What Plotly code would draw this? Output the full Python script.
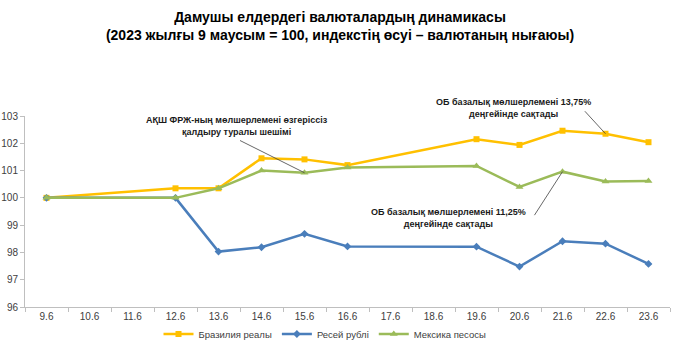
import plotly.graph_objects as go

categories = ["9.6", "10.6", "11.6", "12.6", "13.6", "14.6", "15.6", "16.6",
              "17.6", "18.6", "19.6", "20.6", "21.6", "22.6", "23.6"]
brazil = [100.0, None, None, 100.35, 100.35, 101.45, 101.41, 101.2,
          None, None, 102.15, 101.94, 102.46, 102.35, 102.04]
russia = [100.0, None, None, 100.0, 98.03, 98.19, 98.68, 98.22,
          None, None, 98.21, 97.48, 98.41, 98.32, 97.58]
mexico = [100.0, None, None, 100.0, 100.35, 101.0, 100.92, 101.11,
          None, None, 101.17, 100.4, 100.96, 100.6, 100.62]
y_ticks = [96, 97, 98, 99, 100, 101, 102, 103]

FONT = "Liberation Sans, Arial, sans-serif"

fig = go.Figure()
fig.add_trace(go.Scatter(x=categories, y=brazil, name="Бразилия реалы", mode="lines+markers",
                         connectgaps=True, line=dict(color="#FFC000", width=2.5),
                         marker=dict(symbol="square", size=6, color="#FFC000")))
fig.add_trace(go.Scatter(x=categories, y=russia, name="Ресей рублі", mode="lines+markers",
                         connectgaps=True, line=dict(color="#4A7EBB", width=2.5),
                         marker=dict(symbol="diamond", size=6, color="#4A7EBB")))
fig.add_trace(go.Scatter(x=categories, y=mexico, name="Мексика песосы", mode="lines+markers",
                         connectgaps=True, line=dict(color="#9BBB59", width=2.5),
                         marker=dict(symbol="triangle-up", size=7, color="#9BBB59")))

i15 = categories.index("15.6")
i21 = categories.index("21.6")
i22 = categories.index("22.6")

W, H = 679, 344
# plot area in pixels: x 25..670, y 116..307

def cx(xp):
    return xp / W

def cy(yp):
    return 1 - yp / H

ann_font = dict(family=FONT, size=9, color="#1a1a1a")
annotations = [
    dict(x=i15, y=mexico[i15], xref="x", yref="y", text="", showarrow=True,
         arrowhead=0, arrowwidth=0.8, arrowcolor="#404040", ax=-66, ay=-33),
    dict(x=i22, y=brazil[i22], xref="x", yref="y", text="", showarrow=True,
         arrowhead=0, arrowwidth=0.8, arrowcolor="#404040", ax=-22, ay=-24),
    dict(x=i21, y=mexico[i21], xref="x", yref="y", text="", showarrow=True,
         arrowhead=0, arrowwidth=0.8, arrowcolor="#404040", ax=-29, ay=45),
    dict(x=(237 - 25) / 645, y=(307 - 126) / 191, xref="paper", yref="paper",
         text="<b>АҚШ ФРЖ-ның мөлшерлемені өзгеріссіз<br>қалдыру туралы шешімі</b>",
         showarrow=False, font=ann_font, align="center", xanchor="center", yanchor="middle"),
    dict(x=(513 - 25) / 645, y=(307 - 108) / 191, xref="paper", yref="paper",
         text="<b>ОБ базалық мөлшерлемені 13,75%<br>деңгейінде сақтады</b>",
         showarrow=False, font=ann_font, align="center", xanchor="center", yanchor="middle"),
    dict(x=(448 - 25) / 645, y=(307 - 218) / 191, xref="paper", yref="paper",
         text="<b>ОБ базалық мөлшерлемені 11,25%<br>деңгейінде сақтады</b>",
         showarrow=False, font=ann_font, align="center", xanchor="center", yanchor="middle"),
]

fig.update_layout(
    width=W, height=H,
    margin=dict(l=25, r=9, t=116, b=37, autoexpand=False),
    paper_bgcolor="white", plot_bgcolor="white",
    font=dict(family=FONT, size=10, color="#404040"),
    title=dict(text="<b>Дамушы елдердегі валюталардың динамикасы<br>(2023 жылғы 9 маусым = 100, индекстің өсуі – валютаның нығаюы)</b>",
               x=cx(340), xref="container", xanchor="center",
               y=cy(22), yref="container", yanchor="middle",
               font=dict(family=FONT, size=14, color="#000000")),
    showlegend=True,
    legend=dict(orientation="h", x=cx(325), xref="container", xanchor="center",
                y=cy(334), yref="container", yanchor="middle",
                font=dict(size=9.5, color="#404040"), tracegroupgap=0),
    annotations=annotations,
)
fig.update_xaxes(type="category", categoryorder="array", categoryarray=categories,
                 range=[-0.5, len(categories) - 0.5], tickangle=0,
                 showgrid=False, showline=True, linecolor="#BFBFBF", linewidth=1,
                 ticks="outside", tickson="boundaries", ticklen=4, tickcolor="#BFBFBF",
                 tickfont=dict(size=10, color="#404040"), zeroline=False)
fig.update_yaxes(range=[96, 103], tickvals=y_ticks, showgrid=False, showline=True,
                 linecolor="#BFBFBF", linewidth=1, ticks="outside", ticklen=4,
                 tickcolor="#BFBFBF", tickfont=dict(size=10, color="#404040"),
                 zeroline=False)

fig.write_html("out.html")
